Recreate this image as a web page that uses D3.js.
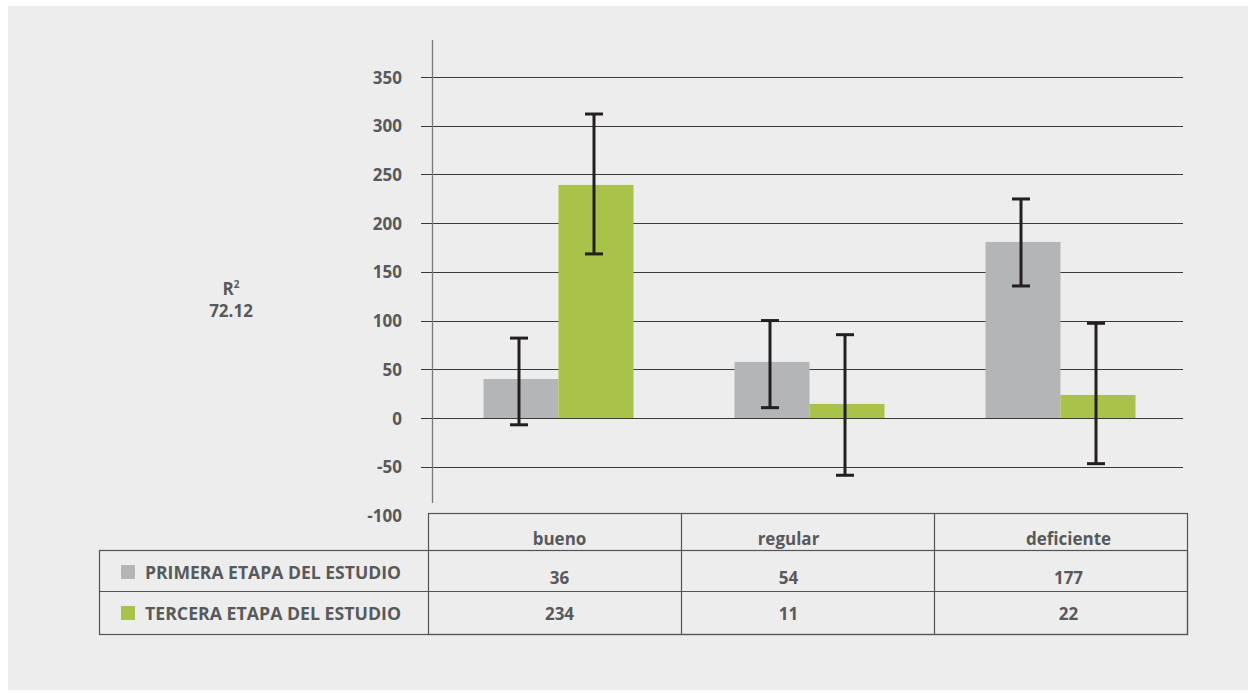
<!DOCTYPE html>
<html>
<head>
<meta charset="utf-8">
<script src="https://cdn.jsdelivr.net/npm/d3@7/dist/d3.min.js"></script>
<style>
  html, body { margin: 0; padding: 0; background: #ffffff; }
  svg { display: block; }
  text { font-family: "Open Sans", "Noto Sans", sans-serif; font-weight: 700; fill: #58595b; }
</style>
</head>
<body>
<svg id="chart" width="1251" height="693"></svg>
<script>
// ---- data ----
const categories = ["bueno", "regular", "deficiente"];
const seriesNames = ["PRIMERA ETAPA DEL ESTUDIO", "TERCERA ETAPA DEL ESTUDIO"];
// values as printed in the table
const primeraTable = [36, 54, 177];
const terceraTable = [234, 11, 22];
// bar heights as drawn in the chart
const primeraBars = [40, 57.5, 180.7];
const terceraBars = [239.2, 14.4, 23.6];
// error bar ranges [low, high]
const primeraErr = [[-7, 82], [10.6, 100], [135.5, 224.8]];
const terceraErr = [[168.4, 312], [-58.8, 85.5], [-46.9, 97.2]];
const yTicks = [350, 300, 250, 200, 150, 100, 50, 0, -50, -100];
const gridTicks = [350, 300, 250, 200, 150, 100, 50, 0, -50];
const r2Label = "72.12";

// ---- style ----
const colors = ["#b4b5b7", "#a9c24a"];
const textColor = "#58595b";
const fs = 17;

const svg = d3.select("#chart");

// panel background
svg.append("rect").attr("x", 8).attr("y", 6).attr("width", 1240).attr("height", 684).attr("fill", "#ededed");

// scales
const y = d3.scaleLinear().domain([-100, 350]).range([515.4, 77]);
const x = d3.scaleBand().domain(categories).range([433, 1186]).padding(0);
const barW = 75;
const xs = d3.scaleBand().domain(seriesNames).range([-barW, barW]).padding(0);

// gridlines
svg.append("g").selectAll("line").data(gridTicks).join("line")
  .attr("x1", 421).attr("x2", 1183)
  .attr("y1", d => Math.round(y(d)) + 0.5).attr("y2", d => Math.round(y(d)) + 0.5)
  .attr("stroke", "#3a3a3a").attr("stroke-width", 1.1);

// y axis line
svg.append("line").attr("x1", 432.5).attr("x2", 432.5).attr("y1", 40).attr("y2", 503)
  .attr("stroke", "#777").attr("stroke-width", 1.3);

// y axis tick labels via d3 axis
const yAxis = d3.axisLeft(y).tickValues(yTicks).tickSize(0).tickPadding(0).tickFormat(d => String(d));
const ga = svg.append("g").attr("transform", "translate(402,0)").call(yAxis);
ga.select(".domain").remove();
ga.selectAll("text").attr("font-size", fs).attr("fill", textColor)
  .attr("font-family", "'Open Sans', sans-serif").attr("font-weight", 700).attr("dy", "0.36em");

// bars
const seriesBars = [primeraBars, terceraBars];
const seriesErr = [primeraErr, terceraErr];
const barData = [];
seriesNames.forEach((s, si) => categories.forEach((c, ci) => {
  barData.push({ s, si, c, v: seriesBars[si][ci], err: seriesErr[si][ci] });
}));

svg.append("g").selectAll("rect").data(barData).join("rect")
  .attr("x", d => x(d.c) + x.bandwidth() / 2 + xs(d.s))
  .attr("width", xs.bandwidth())
  .attr("y", d => y(Math.max(0, d.v)))
  .attr("height", d => Math.abs(y(d.v) - y(0)))
  .attr("fill", d => colors[d.si]);

// error bars
const eg = svg.append("g").attr("stroke", "#231f20").attr("stroke-width", 3);
barData.forEach(d => {
  const cx = x(d.c) + x.bandwidth() / 2 + xs(d.s) + xs.bandwidth() / 2 - 2;
  eg.append("line").attr("x1", cx).attr("x2", cx).attr("y1", y(d.err[1])).attr("y2", y(d.err[0]));
  eg.append("line").attr("x1", cx - 9).attr("x2", cx + 9).attr("y1", y(d.err[1])).attr("y2", y(d.err[1]));
  eg.append("line").attr("x1", cx - 9).attr("x2", cx + 9).attr("y1", y(d.err[0])).attr("y2", y(d.err[0]));
});

// R² label
const r2 = svg.append("text").attr("x", 231).attr("y", 295).attr("text-anchor", "middle").attr("font-size", fs);
r2.append("tspan").text("R");
r2.append("tspan").attr("font-size", 10).attr("dy", -7).text("2");
svg.append("text").attr("x", 231).attr("y", 317).attr("text-anchor", "middle").attr("font-size", fs).text(r2Label);

// data table
const tx = d3.scaleBand().domain(categories).range([428, 1187]).padding(0);
const labelShift = [5, -19, 8];
const tableTop = 513.5, headBottom = 550.5, row1Bottom = 591.5, tableBottom = 634.5, tableLeft = 99.5;
const tg = svg.append("g").attr("stroke", "#555").attr("stroke-width", 1.2).attr("fill", "none");
tg.append("rect").attr("x", tx.range()[0] + 0.5).attr("y", tableTop).attr("width", tx.range()[1] - tx.range()[0]).attr("height", tableBottom - tableTop);
tg.append("rect").attr("x", tableLeft).attr("y", headBottom).attr("width", tx.range()[1] - tableLeft + 0.5).attr("height", tableBottom - headBottom);
tg.append("line").attr("x1", tableLeft).attr("x2", tx.range()[1] + 0.5).attr("y1", row1Bottom).attr("y2", row1Bottom);
categories.slice(1).forEach(c => {
  tg.append("line").attr("x1", tx(c) + 0.5).attr("x2", tx(c) + 0.5).attr("y1", tableTop).attr("y2", tableBottom);
});

// header labels
svg.append("g").selectAll("text").data(categories).join("text")
  .attr("x", (c, i) => tx(c) + tx.bandwidth() / 2 + labelShift[i])
  .attr("y", 545).attr("text-anchor", "middle").attr("font-size", fs).text(c => c);

// table values
const tableVals = [primeraTable, terceraTable];
const rowBase = [584, 620];
tableVals.forEach((vals, si) => {
  svg.append("g").selectAll("text").data(vals).join("text")
    .attr("x", (v, i) => tx(categories[i]) + tx.bandwidth() / 2 + labelShift[i])
    .attr("y", rowBase[si]).attr("text-anchor", "middle").attr("font-size", fs).text(v => v);
});

// legend rows
const legendBase = [579, 620];
seriesNames.forEach((s, si) => {
  svg.append("rect").attr("x", 121).attr("y", legendBase[si] - 14).attr("width", 14).attr("height", 14).attr("fill", colors[si]);
  svg.append("text").attr("x", 145).attr("y", legendBase[si]).attr("font-size", fs)
    .attr("textLength", 256).attr("lengthAdjust", "spacingAndGlyphs").text(s);
});
</script>
</body>
</html>
